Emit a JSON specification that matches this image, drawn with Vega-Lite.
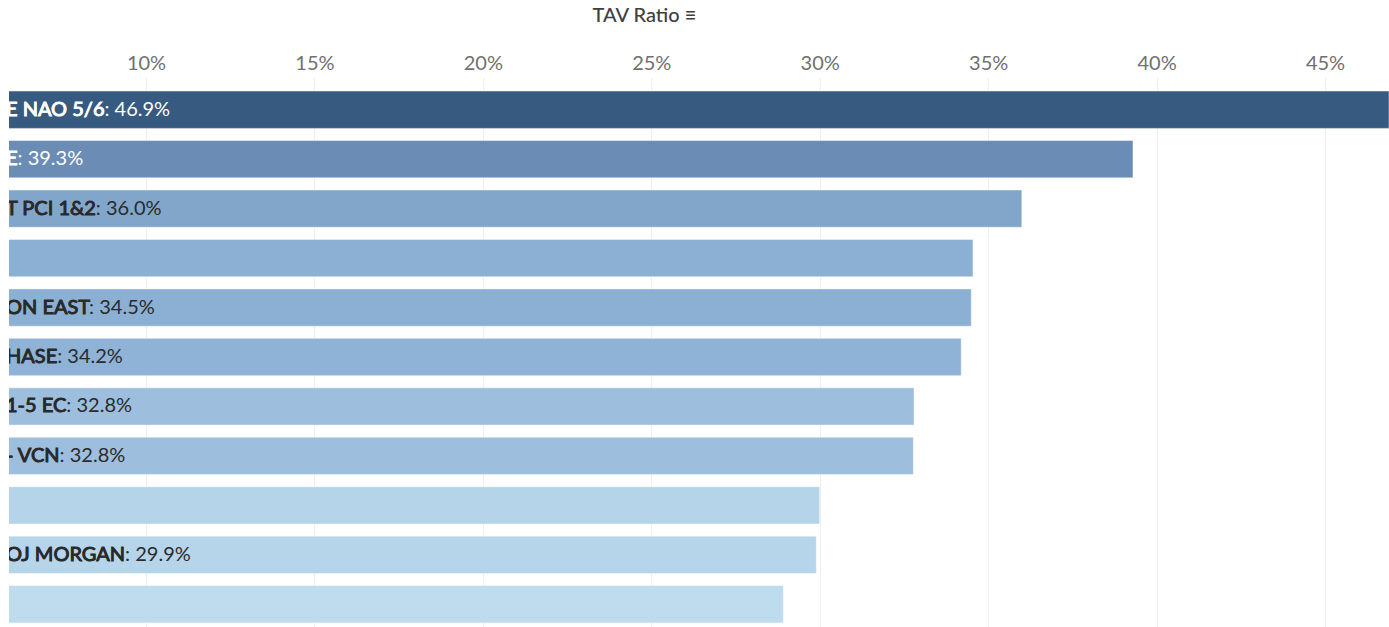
{
  "$schema": "https://vega.github.io/schema/vega-lite/v6.json",
  "width": 1380,
  "height": 544,
  "autosize": "none",
  "padding": {"left": 9, "top": 85, "right": 0, "bottom": 0},
  "background": "white",
  "config": {"view": {"stroke": null}, "font": "Lato"},
  "data": {
    "values": [
      {"id": "r01", "name": "E NAO 5/6", "label": "E NAO 5/6: 46.9%", "value": 0.469},
      {"id": "r02", "name": "E", "label": "E: 39.3%", "value": 0.393},
      {"id": "r03", "name": "T PCI 1&2", "label": "T PCI 1&2: 36.0%", "value": 0.360},
      {"id": "r04", "name": "", "label": "", "value": 0.3455},
      {"id": "r05", "name": "ON EAST", "label": "ON EAST: 34.5%", "value": 0.345},
      {"id": "r06", "name": "HASE", "label": "HASE: 34.2%", "value": 0.342},
      {"id": "r07", "name": "1-5 EC", "label": "1-5 EC: 32.8%", "value": 0.328},
      {"id": "r08", "name": "- VCN", "label": "- VCN: 32.8%", "value": 0.3278},
      {"id": "r09", "name": "", "label": "", "value": 0.300},
      {"id": "r10", "name": "OJ MORGAN", "label": "OJ MORGAN: 29.9%", "value": 0.299},
      {"id": "r11", "name": "", "label": "", "value": 0.2892}
    ]
  },
  "encoding": {
    "y": {
      "field": "id",
      "type": "nominal",
      "sort": {"field": "value", "order": "descending"},
      "scale": {"paddingInner": 0.245, "paddingOuter": 0.1225},
      "axis": null
    }
  },
  "layer": [
    {
      "mark": {"type": "bar", "clip": true, "stroke": "white", "strokeOpacity": 0.45, "strokeWidth": 1},
      "encoding": {
        "x": {
          "field": "value",
          "type": "quantitative",
          "scale": {"domain": [0.05933, 0.469], "nice": false, "zero": false},
          "axis": {
            "orient": "top",
            "format": ".0%",
            "values": [0.10, 0.15, 0.20, 0.25, 0.30, 0.35, 0.40, 0.45],
            "domain": false,
            "ticks": true,
            "tickSize": 8,
            "tickColor": "#eeeeee",
            "grid": true,
            "gridColor": "#eeeeee",
            "labelFontSize": 20,
            "labelColor": "#707070",
            "labelPadding": 4,
            "title": "TAV Ratio  ≡",
            "titleFontSize": 20,
            "titleFontWeight": 500,
            "titleColor": "#404040",
            "titleX": 583,
            "titleY": -64,
            "titleAlign": "left",
            "titleBaseline": "alphabetic",
            "titleAnchor": null
          }
        },
        "color": {
          "field": "value",
          "type": "quantitative",
          "scale": {
            "domain": [0.2892, 0.300, 0.328, 0.345, 0.360, 0.393, 0.469],
            "range": ["#bfdbee", "#b5d4ea", "#9dbfdd", "#8cb0d4", "#82a6ca", "#6a8cb5", "#375a80"]
          },
          "legend": null
        }
      }
    },
    {
      "mark": {"type": "text", "clip": true, "align": "left", "baseline": "middle", "dx": -3, "fontSize": 20},
      "encoding": {
        "x": {"datum": 0.05933, "type": "quantitative"},
        "text": {"field": "label"},
        "color": {
          "condition": {"test": "datum.value > 0.38", "value": "white"},
          "value": "#2a2a2a"
        }
      }
    },
    {
      "mark": {"type": "text", "clip": true, "align": "left", "baseline": "middle", "dx": -3, "fontSize": 20, "strokeWidth": 0.9},
      "encoding": {
        "x": {"datum": 0.05933, "type": "quantitative"},
        "text": {"field": "name"},
        "color": {
          "condition": {"test": "datum.value > 0.38", "value": "white"},
          "value": "#2a2a2a"
        },
        "stroke": {
          "condition": {"test": "datum.value > 0.38", "value": "white"},
          "value": "#2a2a2a"
        }
      }
    }
  ]
}
